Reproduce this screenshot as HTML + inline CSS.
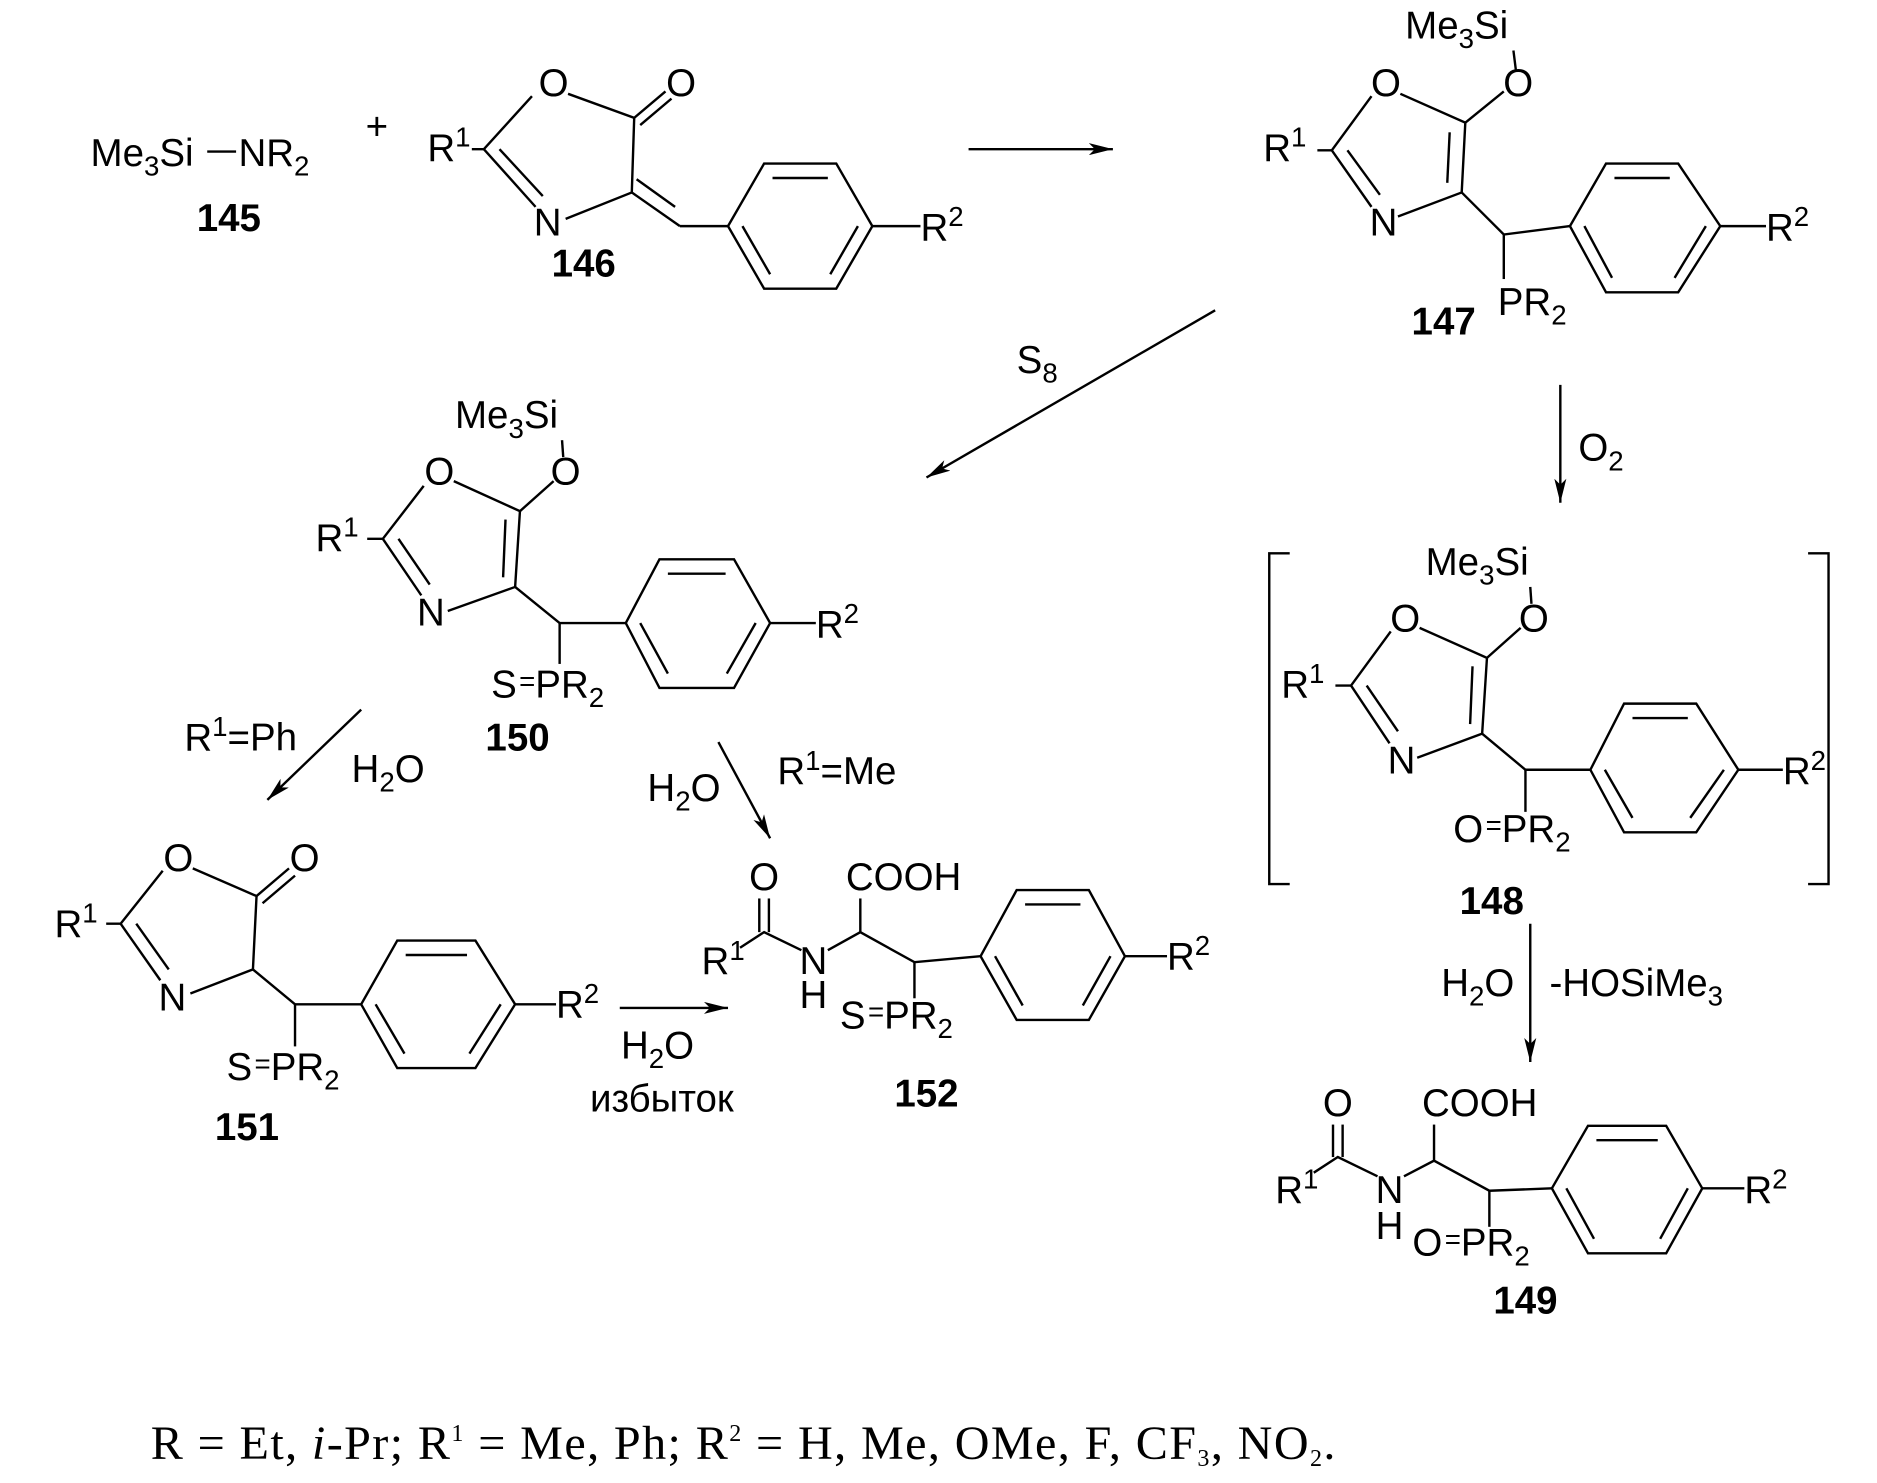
<!DOCTYPE html>
<html><head><meta charset="utf-8"><style>
html,body{margin:0;padding:0;background:#fff}
svg{display:block}
text{font-family:"Liberation Sans",Arial,sans-serif;font-size:32px;fill:#000}
.b{font-weight:bold;font-size:32px}
.s{font-size:23px}
line,polyline,polygon,path{stroke:#000;stroke-width:2;fill:none}
</style></head><body>
<svg width="1877" height="1483" viewBox="0 0 1560 1233" xmlns="http://www.w3.org/2000/svg">
<defs>
<marker id="h" viewBox="0 0 20 10" markerWidth="20" markerHeight="10" refX="20" refY="5" orient="auto" markerUnits="userSpaceOnUse"><path d="M0,0 L20,5 L0,10 L5,5 Z" style="fill:#000;stroke:none"/></marker></defs>

<!-- 145 -->
<text x="75" y="138">Me<tspan class="s" dy="8">3</tspan><tspan dy="-8">Si</tspan></text>
<line x1="172" y1="126" x2="196" y2="126"/>
<text x="198" y="138">NR<tspan class="s" dy="8">2</tspan></text>
<text class="b" x="190" y="192" text-anchor="middle">145</text>
<text x="313" y="116" text-anchor="middle">+</text>

<!-- 146 -->
<text x="355" y="134">R<tspan class="s" dy="-12">1</tspan></text>
<text x="460" y="80" text-anchor="middle">O</text>
<text x="566" y="80" text-anchor="middle">O</text>
<text x="455" y="196" text-anchor="middle">N</text>
<text class="b" x="485" y="230" text-anchor="middle">146</text>
<polyline points="392,124 402,124 442,80"/>
<line x1="402" y1="124" x2="445" y2="172"/><line x1="415" y1="124" x2="451" y2="163"/>
<polyline points="472,78 527,98 525,160 470,182"/>
<line x1="527" y1="98" x2="553" y2="76"/><line x1="532" y1="104" x2="558" y2="82"/>
<line x1="525" y1="160" x2="565" y2="188"/><line x1="529" y1="149" x2="561" y2="172"/>
<line x1="565" y1="188" x2="605" y2="188"/>
<polygon points="605,188 635,136 695,136 725,188 695,240 635,240"/>
<line x1="642" y1="148" x2="688" y2="148"/><line x1="713" y1="188" x2="690" y2="228"/><line x1="617" y1="188" x2="640" y2="228"/>
<line x1="725" y1="188" x2="765" y2="188"/>
<text x="765" y="200">R<tspan class="s" dy="-12">2</tspan></text>

<line x1="805" y1="124" x2="925" y2="124" marker-end="url(#h)"/>

<!-- 147 -->
<text x="1168" y="32">Me<tspan class="s" dy="8">3</tspan><tspan dy="-8">Si</tspan></text>
<line x1="1258" y1="42" x2="1260" y2="58"/>
<text x="1262" y="80" text-anchor="middle">O</text>
<text x="1152" y="80" text-anchor="middle">O</text>
<text x="1050" y="134">R<tspan class="s" dy="-12">1</tspan></text>
<text x="1150" y="196" text-anchor="middle">N</text>
<polyline points="1095,125 1107,125 1140,80"/>
<line x1="1107" y1="125" x2="1140" y2="172"/><line x1="1120" y1="125" x2="1147" y2="162"/>
<polyline points="1164,78 1218,102 1215,160 1162,180"/>
<line x1="1218" y1="102" x2="1250" y2="76"/>
<line x1="1205" y1="110" x2="1203" y2="152"/>
<polyline points="1215,160 1250,195 1305,188"/>
<line x1="1250" y1="195" x2="1250" y2="232"/>
<text x="1245" y="262">PR<tspan class="s" dy="8">2</tspan></text>
<text class="b" x="1200" y="278" text-anchor="middle">147</text>
<polygon points="1305,188 1335,136 1395,136 1430,188 1395,243 1335,243"/>
<line x1="1342" y1="148" x2="1388" y2="148"/><line x1="1418" y1="188" x2="1392" y2="231"/><line x1="1317" y1="188" x2="1340" y2="231"/>
<line x1="1430" y1="188" x2="1468" y2="188"/>
<text x="1468" y="200">R<tspan class="s" dy="-12">2</tspan></text>

<line x1="1010" y1="258" x2="770" y2="397" marker-end="url(#h)"/>
<text x="845" y="310">S<tspan class="s" dy="8">8</tspan></text>
<line x1="1297" y1="320" x2="1297" y2="418" marker-end="url(#h)"/>
<text x="1312" y="383">O<tspan class="s" dy="8">2</tspan></text>

<!-- 150 -->
<text x="378" y="356">Me<tspan class="s" dy="8">3</tspan><tspan dy="-8">Si</tspan></text>
<line x1="467" y1="366" x2="468" y2="380"/>
<text x="470" y="403" text-anchor="middle">O</text>
<text x="365" y="403" text-anchor="middle">O</text>
<text x="262" y="458">R<tspan class="s" dy="-12">1</tspan></text>
<text x="358" y="520" text-anchor="middle">N</text>
<polyline points="305,448 318,448 352,404"/>
<line x1="318" y1="448" x2="350" y2="495"/><line x1="331" y1="448" x2="357" y2="486"/>
<polyline points="377,400 432,425 428,488 372,508"/>
<line x1="432" y1="425" x2="460" y2="400"/>
<line x1="420" y1="432" x2="418" y2="480"/>
<polyline points="428,488 465,518 520,518"/>
<line x1="465" y1="518" x2="465" y2="552"/>
<text x="408" y="580">S<tspan dx="2" dy="-6" class="s">=</tspan><tspan dy="6">PR</tspan><tspan class="s" dy="8">2</tspan></text>
<text class="b" x="430" y="624" text-anchor="middle">150</text>
<polygon points="520,518 548,465 610,465 640,518 610,572 548,572"/>
<line x1="555" y1="477" x2="603" y2="477"/><line x1="628" y1="518" x2="604" y2="560"/><line x1="532" y1="518" x2="555" y2="560"/>
<line x1="640" y1="518" x2="678" y2="518"/>
<text x="678" y="530">R<tspan class="s" dy="-12">2</tspan></text>

<!-- bracket 148 -->
<polyline points="1072,460 1055,460 1055,735 1072,735"/>
<polyline points="1503,460 1520,460 1520,735 1503,735"/>
<text x="1185" y="478">Me<tspan class="s" dy="8">3</tspan><tspan dy="-8">Si</tspan></text>
<line x1="1272" y1="488" x2="1273" y2="502"/>
<text x="1275" y="525" text-anchor="middle">O</text>
<text x="1168" y="525" text-anchor="middle">O</text>
<text x="1065" y="580">R<tspan class="s" dy="-12">1</tspan></text>
<text x="1165" y="643" text-anchor="middle">N</text>
<polyline points="1110,570 1123,570 1156,525"/>
<line x1="1123" y1="570" x2="1155" y2="618"/><line x1="1136" y1="570" x2="1162" y2="608"/>
<polyline points="1180,522 1236,547 1232,610 1178,630"/>
<line x1="1236" y1="547" x2="1264" y2="522"/>
<line x1="1224" y1="554" x2="1222" y2="602"/>
<polyline points="1232,610 1268,640 1322,640"/>
<line x1="1268" y1="640" x2="1268" y2="675"/>
<text x="1208" y="700">O<tspan dx="2" dy="-6" class="s">=</tspan><tspan dy="6">PR</tspan><tspan class="s" dy="8">2</tspan></text>
<polygon points="1322,640 1350,585 1410,585 1445,640 1410,692 1350,692"/>
<line x1="1357" y1="597" x2="1403" y2="597"/><line x1="1433" y1="640" x2="1405" y2="680"/><line x1="1334" y1="640" x2="1357" y2="680"/>
<line x1="1445" y1="640" x2="1482" y2="640"/>
<text x="1482" y="652">R<tspan class="s" dy="-12">2</tspan></text>
<text class="b" x="1240" y="760" text-anchor="middle">148</text>

<line x1="1272" y1="768" x2="1272" y2="883" marker-end="url(#h)"/>
<text x="1198" y="828">H<tspan class="s" dy="8">2</tspan><tspan dy="-8">O</tspan></text>
<text x="1288" y="828">-HOSiMe<tspan class="s" dy="8">3</tspan></text>

<!-- 149 -->
<text x="1112" y="928" text-anchor="middle">O</text>
<text x="1182" y="928">COOH</text>
<text x="1060" y="1000">R<tspan class="s" dy="-12">1</tspan></text>
<text x="1155" y="1000" text-anchor="middle">N</text>
<text x="1155" y="1030" text-anchor="middle">H</text>
<line x1="1108" y1="935" x2="1108" y2="962"/><line x1="1116" y1="935" x2="1116" y2="962"/>
<polyline points="1092,975 1112,962 1145,978"/>
<polyline points="1167,978 1192,965 1238,990 1290,988"/>
<line x1="1192" y1="965" x2="1192" y2="935"/>
<line x1="1238" y1="990" x2="1238" y2="1020"/>
<text x="1174" y="1044">O<tspan dx="2" dy="-6" class="s">=</tspan><tspan dy="6">PR</tspan><tspan class="s" dy="8">2</tspan></text>
<polygon points="1290,988 1320,936 1385,936 1415,988 1385,1042 1320,1042"/>
<line x1="1327" y1="948" x2="1378" y2="948"/><line x1="1403" y1="988" x2="1380" y2="1030"/><line x1="1302" y1="988" x2="1325" y2="1030"/>
<line x1="1415" y1="988" x2="1450" y2="988"/>
<text x="1450" y="1000">R<tspan class="s" dy="-12">2</tspan></text>
<text class="b" x="1268" y="1092" text-anchor="middle">149</text>

<line x1="300" y1="590" x2="222" y2="665" marker-end="url(#h)"/>
<text x="153" y="624">R<tspan class="s" dy="-12">1</tspan><tspan dy="12">=Ph</tspan></text>
<text x="292" y="650">H<tspan class="s" dy="8">2</tspan><tspan dy="-8">O</tspan></text>
<line x1="597" y1="617" x2="640" y2="697" marker-end="url(#h)"/>
<text x="538" y="666">H<tspan class="s" dy="8">2</tspan><tspan dy="-8">O</tspan></text>
<text x="646" y="652">R<tspan class="s" dy="-12">1</tspan><tspan dy="12">=Me</tspan></text>

<!-- 151 -->
<text x="148" y="724" text-anchor="middle">O</text>
<text x="253" y="724" text-anchor="middle">O</text>
<text x="45" y="779">R<tspan class="s" dy="-12">1</tspan></text>
<text x="143" y="840" text-anchor="middle">N</text>
<polyline points="88,768 100,768 135,724"/>
<line x1="100" y1="768" x2="133" y2="815"/><line x1="113" y1="768" x2="140" y2="806"/>
<polyline points="160,722 213,745 210,806 158,826"/>
<line x1="213" y1="745" x2="240" y2="722"/><line x1="218" y1="751" x2="245" y2="728"/>
<polyline points="210,806 245,835 300,835"/>
<line x1="245" y1="835" x2="245" y2="870"/>
<text x="188" y="898">S<tspan dx="2" dy="-6" class="s">=</tspan><tspan dy="6">PR</tspan><tspan class="s" dy="8">2</tspan></text>
<polygon points="300,835 330,782 395,782 428,835 395,888 330,888"/>
<line x1="337" y1="794" x2="388" y2="794"/><line x1="416" y1="835" x2="390" y2="876"/><line x1="312" y1="835" x2="336" y2="876"/>
<line x1="428" y1="835" x2="462" y2="835"/>
<text x="462" y="846">R<tspan class="s" dy="-12">2</tspan></text>
<text class="b" x="205" y="948" text-anchor="middle">151</text>

<line x1="515" y1="838" x2="605" y2="838" marker-end="url(#h)"/>
<text x="516" y="880">H<tspan class="s" dy="8">2</tspan><tspan dy="-8">O</tspan></text>
<text x="550" y="924" text-anchor="middle">избыток</text>

<!-- 152 -->
<text x="635" y="740" text-anchor="middle">O</text>
<text x="703" y="740">COOH</text>
<text x="583" y="810">R<tspan class="s" dy="-12">1</tspan></text>
<text x="676" y="810" text-anchor="middle">N</text>
<text x="676" y="838" text-anchor="middle">H</text>
<line x1="631" y1="747" x2="631" y2="775"/><line x1="639" y1="747" x2="639" y2="775"/>
<polyline points="615,788 635,775 666,790"/>
<polyline points="688,790 715,775 760,800 815,795"/>
<line x1="715" y1="775" x2="715" y2="747"/>
<line x1="760" y1="800" x2="760" y2="830"/>
<text x="698" y="855">S<tspan dx="2" dy="-6" class="s">=</tspan><tspan dy="6">PR</tspan><tspan class="s" dy="8">2</tspan></text>
<polygon points="815,795 845,740 905,740 935,795 905,848 845,848"/>
<line x1="852" y1="752" x2="898" y2="752"/><line x1="923" y1="795" x2="900" y2="836"/><line x1="827" y1="795" x2="850" y2="836"/>
<line x1="935" y1="795" x2="970" y2="795"/>
<text x="970" y="806">R<tspan class="s" dy="-12">2</tspan></text>
<text class="b" x="770" y="920" text-anchor="middle">152</text>

<!-- footer -->
<text x="125" y="1213" style="font-family:'Liberation Serif',serif;font-size:40px" textLength="985" lengthAdjust="spacing">R = Et, <tspan font-style="italic">i</tspan>-Pr; R<tspan style="font-size:20px" dy="-15">1</tspan><tspan dy="15"> = Me, Ph; R</tspan><tspan style="font-size:20px" dy="-15">2</tspan><tspan dy="15"> = H, Me, OMe, F, CF</tspan><tspan style="font-size:20px" dy="6">3</tspan><tspan dy="-6">, NO</tspan><tspan style="font-size:20px" dy="6">2</tspan><tspan dy="-6">.</tspan></text>
</svg>
</body></html>
